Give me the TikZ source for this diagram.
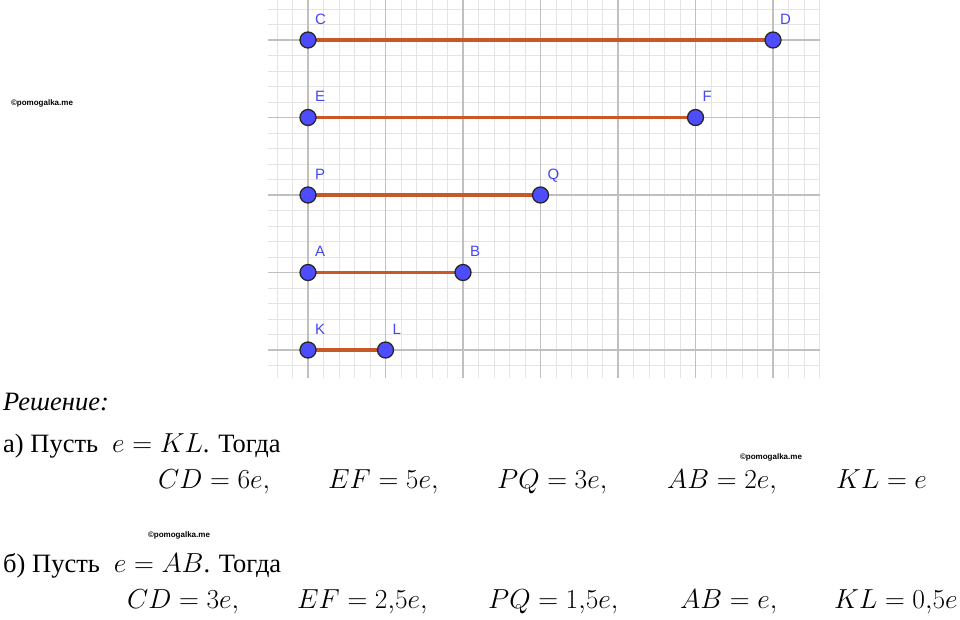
\RequirePackage{fix-cm}
\documentclass[tikz,border=0pt]{standalone}
\usepackage{fontspec}
\setmainfont{Liberation Serif}
\setsansfont{Liberation Sans}
\usetikzlibrary{calc}
\definecolor{gridminor}{RGB}{228,228,228}
\definecolor{gridmajor}{RGB}{192,192,192}
\definecolor{segcol}{RGB}{200,88,40}
\definecolor{ptblue}{RGB}{77,77,255}
\definecolor{lblblue}{RGB}{70,70,240}
\begin{document}
\begin{tikzpicture}[x=1pt,y=-1pt,
  minor/.style={gridminor, line width=1pt},
  major/.style={gridmajor, line width=1.4pt},
  seg/.style={segcol, line width=3.5pt},
  pt/.style={circle, fill=ptblue, draw=black!85, line width=1.3pt, minimum size=16pt, inner sep=0pt},
  lbl/.style={font=\sffamily\fontsize{15}{18}\selectfont, text=lblblue, inner sep=0pt, anchor=base west},
  txt/.style={font=\fontsize{26.5}{30}\selectfont, inner sep=0pt, anchor=base west},
  eq/.style={font=\fontsize{27.5}{30}\selectfont, inner sep=0pt, anchor=base west},
  wm/.style={font=\sffamily\bfseries\fontsize{8}{9}\selectfont, inner sep=0pt}]
\useasboundingbox (0,0) rectangle (960,619);

% grid
\begin{scope}
\clip (268,0) rectangle (820,378);
\foreach \i in {-2,...,33}
    \draw[minor] (308+15.5*\i,0) -- (308+15.5*\i,378);
\foreach \j in {-2,...,21}
    \draw[minor] (268,40+15.5*\j) -- (820,40+15.5*\j);
\foreach \i in {0,...,6}
    \draw[major] (308+77.5*\i,0) -- (308+77.5*\i,378);
\foreach \j in {0,...,4}
    \draw[major] (268,40+77.5*\j) -- (820,40+77.5*\j);
\end{scope}

% segments
\foreach \n/\x/\y in {C/308/40, D/773/40, E/308/117.5, F/695.5/117.5, P/308/195, Q/540.5/195, A/308/272.5, B/463/272.5, K/308/350, L/385.5/350}
    \coordinate (\n) at (\x,\y);
\foreach \a/\b in {C/D, E/F, P/Q, A/B, K/L}
    \draw[seg] (\a) -- (\b);
\foreach \n in {C,D,E,F,P,Q,A,B,K,L}
{
    \node[pt] (p\n) at (\n) {};
    \node[lbl] (l\n) at ($(\n)+(7,-16)$) {\n};
}

% watermarks
\node[wm] (wm1) at (42,103) {©pomogalka.me};
\node[wm] (wm2) at (771,457) {©pomogalka.me};
\node[wm] (wm3) at (179,535) {©pomogalka.me};

% solution
\node[txt] (sol) at (3,410) {\textit{Решение:}};
\node[txt] (casea) at (3,452) {а) Пусть\hspace{14pt}{\fontsize{27.5}{30}\selectfont$e = KL$}. Тогда};
\foreach \x/\t [count=\k] in {158/{$CD = 6e,$}, 328/{$EF = 5e,$}, 497/{$PQ = 3e,$}, 667/{$AB = 2e,$}, 836/{$KL = e$}}
    \node[eq] (ra\k) at (\x,488) {\t};
\node[txt] (caseb) at (3,572) {б) Пусть\hspace{14pt}{\fontsize{27.5}{30}\selectfont$e = AB$}. Тогда};
\foreach \x/\t [count=\k] in {127/{$CD = 3e,$}, 297/{$EF = 2{,}5e,$}, 488/{$PQ = 1{,}5e,$}, 680/{$AB = e,$}, 834/{$KL = 0{,}5e$}}
    \node[eq] (rb\k) at (\x,608) {\t};

\end{tikzpicture}
\end{document}
